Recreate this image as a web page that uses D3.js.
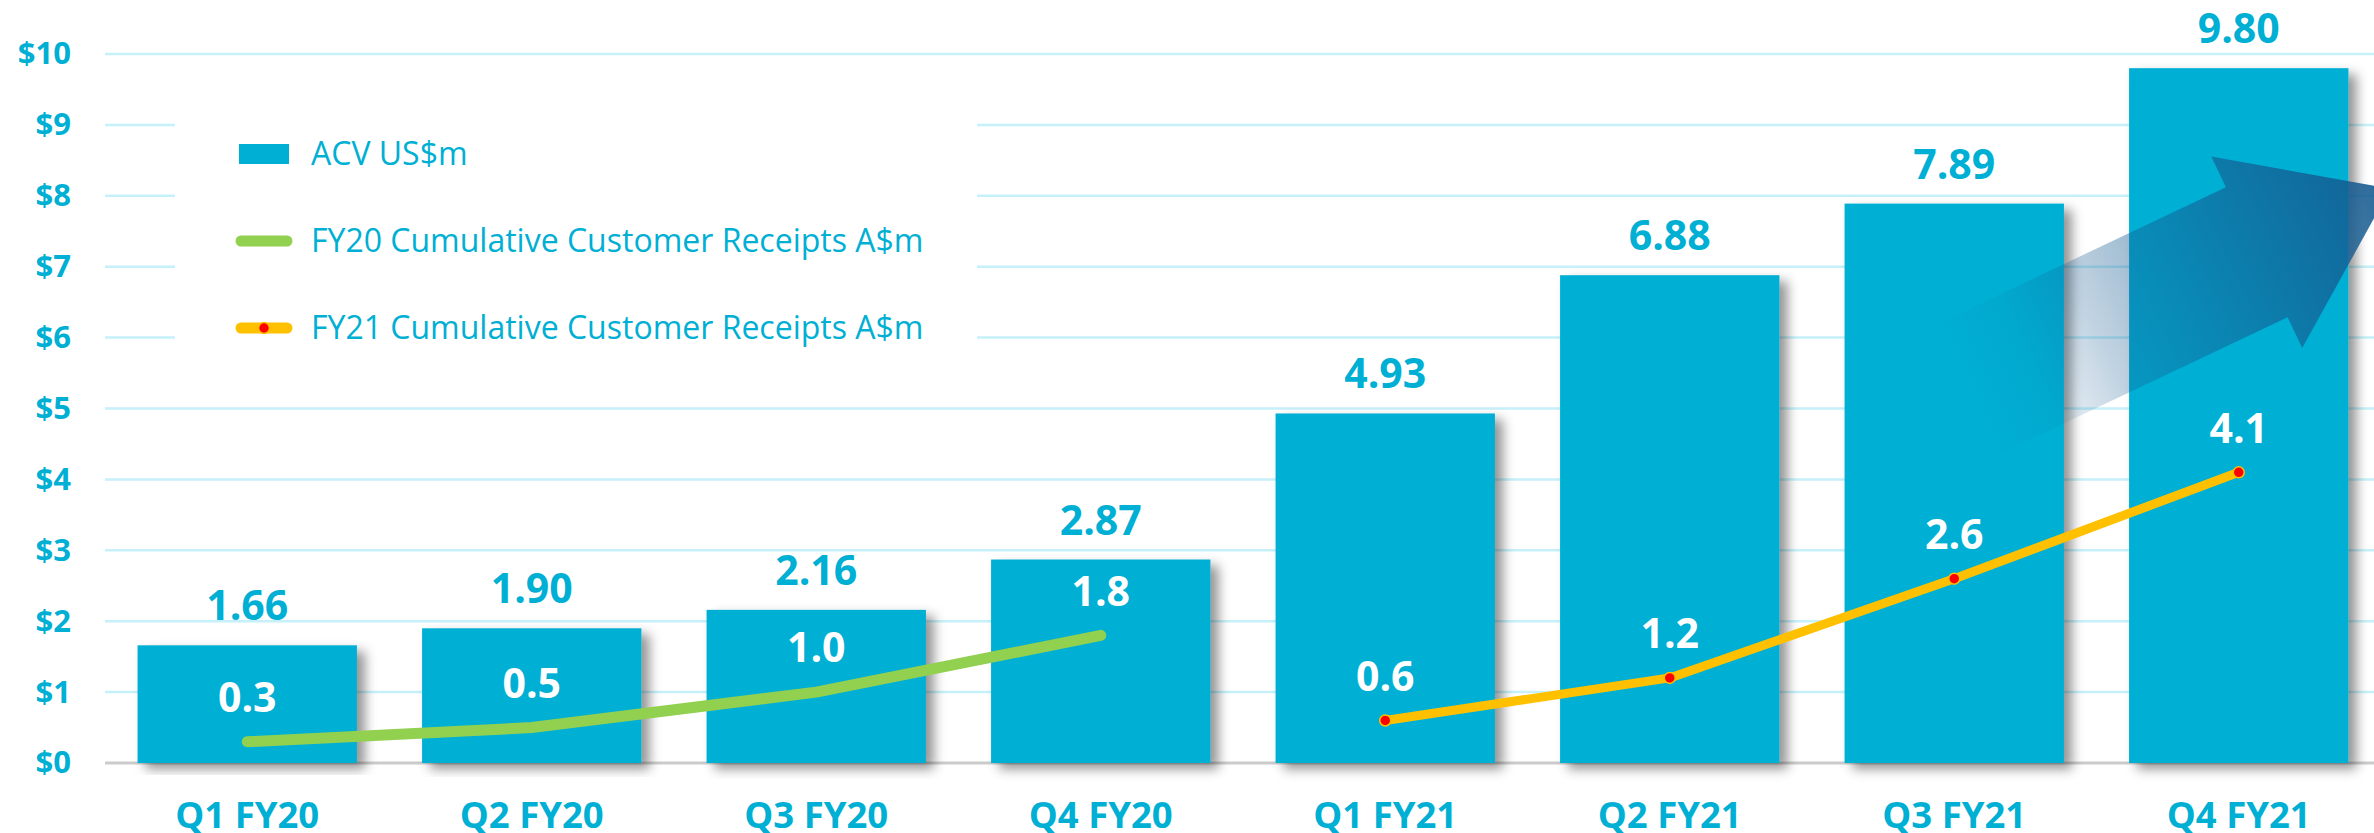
<!DOCTYPE html>
<html>
<head>
<meta charset="utf-8">
<script src="https://cdn.jsdelivr.net/npm/d3@7"></script>
<style>
  html, body { margin: 0; padding: 0; background: #fff; }
  #chart { width: 2374px; height: 833px; }
  svg { display: block; font-family: "Open Sans", sans-serif; }
</style>
</head>
<body>
<div id="chart"></div>
<script>
const quarters = ["Q1 FY20", "Q2 FY20", "Q3 FY20", "Q4 FY20", "Q1 FY21", "Q2 FY21", "Q3 FY21", "Q4 FY21"];
const acv = [1.66, 1.9, 2.16, 2.87, 4.93, 6.88, 7.89, 9.8];
const fy20Quarters = ["Q1 FY20", "Q2 FY20", "Q3 FY20", "Q4 FY20"];
const fy20Receipts = [0.3, 0.5, 1.0, 1.8];
const fy21Quarters = ["Q1 FY21", "Q2 FY21", "Q3 FY21", "Q4 FY21"];
const fy21Receipts = [0.6, 1.2, 2.6, 4.1];
const yTicks = [0, 1, 2, 3, 4, 5, 6, 7, 8, 9, 10];
const legendLabels = [
  "ACV US$m",
  "FY20 Cumulative Customer Receipts A$m",
  "FY21 Cumulative Customer Receipts A$m",
];

class ReceiptsChart {
  constructor(el) {
    this.el = el;
    this.setup();
    this.scaffold();
    this.render();
  }

  setup() {
    this.width = 2374;
    this.height = 833;
    this.margin = { top: 54, right: -7, bottom: 70, left: 105 };

    this.colors = {
      bar: "#00afd4",
      text: "#00afd4",
      grid: "#c6f1fa",
      base: "#cbcbcb",
      fy20: "#92d050",
      fy21: "#ffc000",
      dot: "#ff0000",
      arrow: "#155a90",
    };

    this.x = d3
      .scaleBand()
      .domain(quarters)
      .range([this.margin.left, this.width - this.margin.right])
      .paddingInner(0.229)
      .paddingOuter(0.1145);

    this.y = d3
      .scaleLinear()
      .domain([0, 10])
      .range([this.height - this.margin.bottom, this.margin.top]);

    this.cx = (q) => this.x(q) + this.x.bandwidth() / 2;

    this.line = d3
      .line()
      .x((d) => this.cx(d[0]))
      .y((d) => this.y(d[1]));
  }

  scaffold() {
    this.svg = d3
      .select(this.el)
      .append("svg")
      .attr("width", this.width)
      .attr("height", this.height)
      .attr("viewBox", [0, 0, this.width, this.height]);

    const defs = this.svg.append("defs");

    defs
      .append("filter")
      .attr("id", "bar-shadow")
      .attr("x", "-10%")
      .attr("y", "-10%")
      .attr("width", "130%")
      .attr("height", "120%")
      .append("feDropShadow")
      .attr("dx", 8)
      .attr("dy", 6)
      .attr("stdDeviation", 6)
      .attr("flood-color", "#000")
      .attr("flood-opacity", 0.42);

    const grad = defs
      .append("linearGradient")
      .attr("id", "arrow-grad")
      .attr("gradientUnits", "userSpaceOnUse")
      .attr("x1", -470)
      .attr("y1", 0)
      .attr("x2", 0)
      .attr("y2", 0);
    [
      [0, 0],
      [0.15, 0.08],
      [0.3, 0.26],
      [1, 0.92],
    ].forEach(([o, a]) =>
      grad
        .append("stop")
        .attr("offset", o)
        .attr("stop-color", this.colors.arrow)
        .attr("stop-opacity", a),
    );

    this.gGrid = this.svg.append("g").attr("class", "grid");
    this.gYAxis = this.svg.append("g").attr("class", "axis axis--y");
    this.gLegend = this.svg.append("g").attr("class", "legend");
    this.gBars = this.svg.append("g").attr("class", "bars");
    this.gArrow = this.svg.append("g").attr("class", "arrow");
    this.gLines = this.svg.append("g").attr("class", "lines");
    this.gLabels = this.svg.append("g").attr("class", "labels");
    this.gXAxis = this.svg.append("g").attr("class", "axis axis--x");
  }

  render() {
    this.renderGrid();
    this.renderLegend();
    this.renderBars();
    this.renderArrow();
    this.renderLines();
    this.renderLabels();
    this.renderXAxis();
  }

  renderGrid() {
    this.gGrid
      .selectAll("line")
      .data(yTicks)
      .join("line")
      .attr("x1", this.margin.left)
      .attr("x2", this.width)
      .attr("y1", (d) => this.y(d))
      .attr("y2", (d) => this.y(d))
      .attr("stroke", (d) => (d === 0 ? this.colors.base : this.colors.grid))
      .attr("stroke-width", (d) => (d === 0 ? 3 : 2.5));

    this.gYAxis
      .attr("transform", `translate(${this.margin.left},0)`)
      .call(
        d3
          .axisLeft(this.y)
          .tickValues(yTicks)
          .tickFormat((d) => `$${d}`)
          .tickSize(0)
          .tickPadding(34),
      )
      .call((g) => g.select(".domain").remove())
      .call((g) =>
        g
          .selectAll("text")
          .attr("fill", this.colors.text)
          .attr("font-family", "Open Sans")
          .attr("font-weight", 700)
          .attr("font-size", 31),
      );
  }

  renderLegend() {
    const left = 175;
    const top = 92;
    const rowY = (i) => top + 62 + i * 87;

    this.gLegend
      .append("rect")
      .attr("x", left)
      .attr("y", top)
      .attr("width", 802)
      .attr("height", 282)
      .attr("fill", "#fff");

    const item = this.gLegend
      .selectAll(".legend-item")
      .data(legendLabels)
      .join("g")
      .attr("class", "legend-item")
      .attr("transform", (d, i) => `translate(${left},${rowY(i)})`);

    item
      .filter((d, i) => i === 0)
      .append("rect")
      .attr("x", 64)
      .attr("y", -10)
      .attr("width", 50)
      .attr("height", 20)
      .attr("fill", this.colors.bar);

    item
      .filter((d, i) => i > 0)
      .append("line")
      .attr("x1", 66)
      .attr("x2", 112)
      .attr("stroke", (d, i) => (i === 0 ? this.colors.fy20 : this.colors.fy21))
      .attr("stroke-width", 11)
      .attr("stroke-linecap", "round");

    item
      .filter((d, i) => i === 2)
      .append("circle")
      .attr("cx", 89)
      .attr("r", 5.5)
      .attr("fill", this.colors.dot)
      .attr("stroke", this.colors.fy21)
      .attr("stroke-width", 1.5);

    item
      .append("text")
      .attr("x", 136)
      .attr("dy", "0.35em")
      .attr("fill", this.colors.text)
      .attr("font-size", 32)
      .text((d) => d);
  }

  renderBars() {
    this.gBars
      .selectAll("rect")
      .data(quarters)
      .join("rect")
      .attr("x", (d) => this.x(d))
      .attr("y", (d, i) => this.y(acv[i]))
      .attr("width", this.x.bandwidth())
      .attr("height", (d, i) => this.y(0) - this.y(acv[i]))
      .attr("fill", this.colors.bar)
      .attr("filter", "url(#bar-shadow)");
  }

  renderArrow() {
    // growth arrow, tip just past the last bar
    const tipX = this.x("Q4 FY21") + this.x.bandwidth() + 42;
    const tipY = this.y(8.1);
    const head = 148;
    const headHalf = 106;
    const shaftHalf = 72;
    const tail = 470;
    const pts = [
      [0, 0],
      [-head, -headHalf],
      [-head, -shaftHalf],
      [-tail, -shaftHalf],
      [-tail, shaftHalf],
      [-head, shaftHalf],
      [-head, headHalf],
    ];
    this.gArrow
      .append("path")
      .attr("transform", `translate(${tipX},${tipY}) rotate(-25.4)`)
      .attr("d", d3.line()(pts) + "Z")
      .attr("fill", "url(#arrow-grad)");
  }

  renderLines() {
    const fy20 = fy20Quarters.map((q, i) => [q, fy20Receipts[i]]);
    const fy21 = fy21Quarters.map((q, i) => [q, fy21Receipts[i]]);

    this.gLines
      .append("path")
      .attr("d", this.line(fy20))
      .attr("fill", "none")
      .attr("stroke", this.colors.fy20)
      .attr("stroke-width", 11)
      .attr("stroke-linecap", "round")
      .attr("stroke-linejoin", "round");

    this.gLines
      .append("path")
      .attr("d", this.line(fy21))
      .attr("fill", "none")
      .attr("stroke", this.colors.fy21)
      .attr("stroke-width", 9)
      .attr("stroke-linejoin", "round");

    this.gLines
      .selectAll("circle")
      .data(fy21)
      .join("circle")
      .attr("cx", (d) => this.cx(d[0]))
      .attr("cy", (d) => this.y(d[1]))
      .attr("r", 5.5)
      .attr("fill", this.colors.dot)
      .attr("stroke", this.colors.fy21)
      .attr("stroke-width", 1.5);
  }

  renderLabels() {
    this.gLabels
      .selectAll(".bar-label")
      .data(quarters)
      .join("text")
      .attr("class", "bar-label")
      .attr("x", (d) => this.cx(d))
      .attr("y", (d, i) => this.y(acv[i]) - 25)
      .attr("text-anchor", "middle")
      .attr("fill", this.colors.text)
      .attr("font-weight", 700)
      .attr("font-size", 41)
      .text((d, i) => d3.format(".2f")(acv[i]));

    const receipts = [
      ...fy20Quarters.map((q, i) => [q, fy20Receipts[i]]),
      ...fy21Quarters.map((q, i) => [q, fy21Receipts[i]]),
    ];

    this.gLabels
      .selectAll(".line-label")
      .data(receipts)
      .join("text")
      .attr("class", "line-label")
      .attr("x", (d) => this.cx(d[0]))
      .attr("y", (d) => this.y(d[1]) - 44)
      .attr("dy", "0.35em")
      .attr("text-anchor", "middle")
      .attr("fill", "#fff")
      .attr("font-weight", 700)
      .attr("font-size", 41)
      .text((d) => d3.format(".1f")(d[1]));
  }

  renderXAxis() {
    this.gXAxis
      .selectAll("text")
      .data(quarters)
      .join("text")
      .attr("x", (d) => this.cx(d))
      .attr("y", 828)
      .attr("text-anchor", "middle")
      .attr("fill", this.colors.text)
      .attr("font-weight", 700)
      .attr("font-size", 36.5)
      .text((d) => d);
  }
}

new ReceiptsChart(document.getElementById("chart"));
</script>
</body>
</html>
